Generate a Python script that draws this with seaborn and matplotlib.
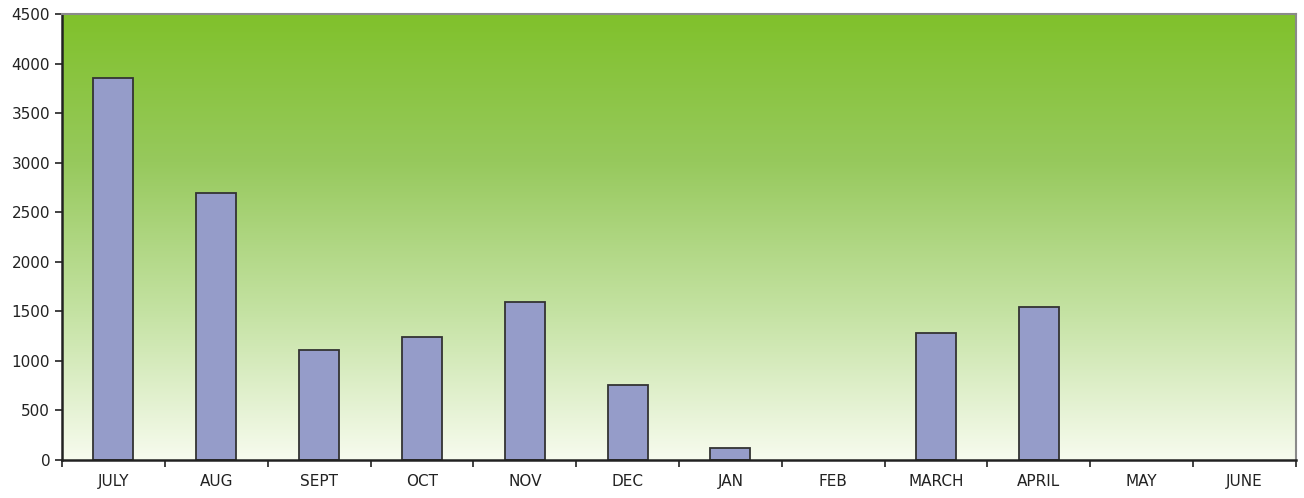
import matplotlib
matplotlib.use("Agg")
import matplotlib.pyplot as plt
import numpy as np
import pandas as pd
import seaborn as sns
from matplotlib.colors import LinearSegmentedColormap

months = ["JULY", "AUG", "SEPT", "OCT", "NOV", "DEC", "JAN", "FEB", "MARCH", "APRIL", "MAY", "JUNE"]
values = [3850, 2690, 1110, 1245, 1590, 755, 120, 0, 1280, 1540, 0, 0]
yticks = [0, 500, 1000, 1500, 2000, 2500, 3000, 3500, 4000, 4500]

sns.set_style('ticks')
plt.rcParams['font.family'] = ['DejaVu Sans']

fig = plt.figure(figsize=(13.04, 4.98), dpi=100)
ax = fig.add_axes([62/1304, 1 - 460/498, (1296-62)/1304, (460-14)/498])

# gradient background, green at top fading to near white
grad = LinearSegmentedColormap.from_list('bg', ['#f7fbee', '#c4e2a2', '#97c95d', '#80c12b'])
g = np.linspace(0, 1, 256).reshape(-1, 1)
ax.imshow(g, aspect='auto', cmap=grad, origin='lower',
          extent=[-0.5, len(months) - 0.5, 0, 4500], zorder=0)

df = pd.DataFrame({'month': months, 'value': values})
sns.barplot(data=df, x='month', y='value', color='#959cc9', saturation=1,
            width=0.39, edgecolor='#333333', linewidth=1.3, ax=ax, zorder=2)

# empty months show no outline
for p in ax.patches:
    if p.get_height() == 0:
        p.set_linewidth(0)

ax.set_xlim(-0.5, len(months) - 0.5)
ax.set_ylim(0, 4500)
ax.set_yticks(yticks)
ax.set_yticklabels([str(t) for t in yticks], fontsize=11, color='#222222')
ax.set_xticks(range(len(months)))
ax.set_xticklabels(months, fontsize=11, color='#222222')
ax.set_xticks(np.arange(-0.5, len(months), 1), minor=True)
ax.tick_params(axis='x', which='major', length=0, pad=10)
ax.tick_params(axis='x', which='minor', length=5, width=1.3, color='#333333')
ax.tick_params(axis='y', length=5, width=1.3, color='#333333')
ax.set_xlabel('')
ax.set_ylabel('')

for side in ['left', 'bottom']:
    ax.spines[side].set_color('#222222')
    ax.spines[side].set_linewidth(1.8)
for side in ['top', 'right']:
    ax.spines[side].set_visible(True)
    ax.spines[side].set_color('#8a8a8a')
    ax.spines[side].set_linewidth(1.5)

fig.savefig('out.png', dpi=100)
